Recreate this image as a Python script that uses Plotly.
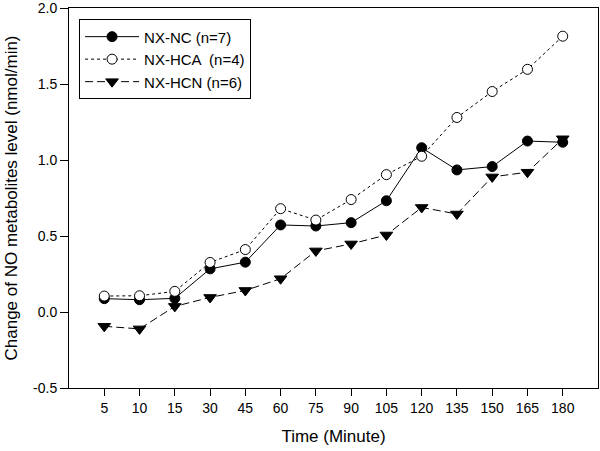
import plotly.graph_objects as go

times = ["5", "10", "15", "30", "45", "60", "75", "90", "105", "120", "135", "150", "165", "180"]
nx_nc = [0.088, 0.081, 0.09, 0.284, 0.328, 0.573, 0.566, 0.588, 0.732, 1.081, 0.935, 0.957, 1.125, 1.117]
nx_hca = [0.105, 0.107, 0.136, 0.326, 0.411, 0.680, 0.605, 0.740, 0.904, 1.025, 1.280, 1.451, 1.597, 1.815]
nx_hcn = [-0.094, -0.111, 0.037, 0.096, 0.142, 0.219, 0.402, 0.448, 0.507, 0.688, 0.645, 0.889, 0.920, 1.140]
y_ticks = [-0.5, 0.0, 0.5, 1.0, 1.5, 2.0]
y_ticktext = ["-0.5", "0.0", "0.5", "1.0", "1.5", "2.0"]

fig = go.Figure()
fig.add_trace(go.Scatter(
    x=times, y=nx_nc, name="NX-NC (n=7)", mode="lines+markers",
    line=dict(color="black", width=1, dash="solid"),
    marker=dict(symbol="circle", size=10, color="black", line=dict(color="black", width=1)),
))
fig.add_trace(go.Scatter(
    x=times, y=nx_hca, name="NX-HCA  (n=4)", mode="lines+markers",
    line=dict(color="black", width=1, dash="dot"),
    marker=dict(symbol="circle", size=10, color="white", line=dict(color="black", width=1)),
))
fig.add_trace(go.Scatter(
    x=times, y=nx_hcn, name="NX-HCN (n=6)", mode="lines+markers",
    line=dict(color="black", width=1, dash="8px,4px"),
    marker=dict(symbol="triangle-down", size=11, color="black", line=dict(color="black", width=1)),
))

fig.update_layout(
    width=600, height=451,
    margin=dict(l=69, r=2, t=8, b=63, autoexpand=False),
    paper_bgcolor="white", plot_bgcolor="white",
    font=dict(family="Liberation Sans, Arial, sans-serif", size=14, color="black"),
    showlegend=True,
    legend=dict(
        x=0.019, y=0.97, xanchor="left", yanchor="top",
        bordercolor="black", borderwidth=1, bgcolor="white",
        font=dict(size=15), tracegroupgap=0, itemwidth=54,
    ),
)
fig.update_xaxes(
    type="category", categoryorder="array", categoryarray=times,
    range=[-1, 14],
    showline=True, linecolor="black", linewidth=1, mirror=True,
    ticks="outside", ticklen=7, tickcolor="black",
    showgrid=False, zeroline=False,
    title=dict(text="Time (Minute)", font=dict(size=17), standoff=15),
    tickfont=dict(size=14),
)
fig.update_yaxes(
    range=[-0.5, 2.0005], tickvals=y_ticks, ticktext=y_ticktext,
    showline=True, linecolor="black", linewidth=1, mirror=True,
    ticks="outside", ticklen=8, tickcolor="black",
    showgrid=False, zeroline=False, ticklabeloverflow="allow",
    title=dict(text="Change of NO metabolites level (nmol/min)", font=dict(size=17), standoff=11),
    tickfont=dict(size=14),
)

fig.write_html("out.html", config={"displayModeBar": False},
               post_script="document.body.style.margin='0';")
